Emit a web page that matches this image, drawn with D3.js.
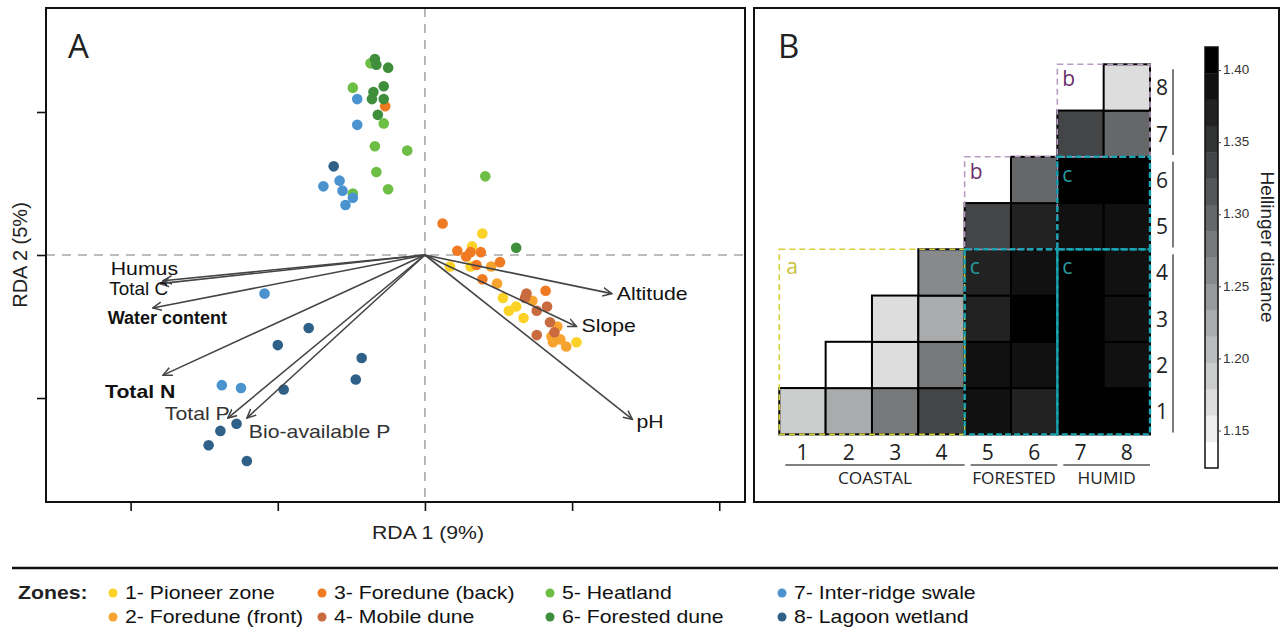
<!DOCTYPE html>
<html><head><meta charset="utf-8">
<script src="https://cdn.jsdelivr.net/npm/d3@7"></script>
<style>body{margin:0;background:#fff;} svg{display:block;}</style>
</head><body><svg id="c" width="1288" height="633"></svg>
<script>
// ---------- DATA (panel A: RDA site scores per zone) ----------
const zoneNames = ["1- Pioneer zone","2- Foredune (front)","3- Foredune (back)","4- Mobile dune",
                   "5- Heatland","6- Forested dune","7- Inter-ridge swale","8- Lagoon wetland"];
const zone1 = [[0.39,0.15],[0.32,0.06],[0.17,-0.08],[0.31,-0.08],[0.53,-0.30],[0.62,-0.36],[0.57,-0.39],[0.67,-0.44],[1.03,-0.61]];
const zone2 = [[0.45,-0.08],[0.49,-0.20],[0.73,-0.32],[0.90,-0.50],[0.86,-0.57],[0.92,-0.59],[0.96,-0.64],[0.87,-0.61]];
const zone3 = [[0.12,0.22],[0.31,0.02],[0.38,0.02],[0.28,-0.01],[0.22,0.03],[0.35,-0.07],[0.51,-0.05],[0.39,-0.17],[0.82,-0.25],[-0.27,1.04]];
const zone4 = [[0.69,-0.27],[0.68,-0.30],[0.83,-0.36],[0.76,-0.39],[0.85,-0.47],[0.88,-0.54],[0.76,-0.56]];
const zone5 = [[-0.37,1.34],[-0.49,1.17],[-0.28,0.92],[-0.34,0.76],[-0.12,0.73],[-0.33,0.58],[-0.49,0.43],[-0.25,0.46],[0.41,0.55]];
const zone6 = [[-0.34,1.37],[-0.33,1.33],[-0.25,1.31],[-0.28,1.18],[-0.35,1.14],[-0.36,1.09],[-0.28,1.09],[-0.32,0.98],[0.62,0.05]];
const zone7 = [[-0.46,1.09],[-0.46,0.91],[-0.58,0.52],[-0.69,0.48],[-0.56,0.45],[-0.49,0.40],[-0.54,0.35],[-1.09,-0.27],[-1.38,-0.91],[-1.25,-0.93]];
const zone8 = [[-0.62,0.62],[-0.79,-0.51],[-1.00,-0.63],[-0.43,-0.72],[-0.47,-0.87],[-0.96,-0.94],[-1.28,-1.18],[-1.39,-1.23],[-1.47,-1.33],[-1.21,-1.44]];
const zoneSites = [zone1,zone2,zone3,zone4,zone5,zone6,zone7,zone8];

// environmental vectors
const envNames = ["Altitude","Slope","pH","Humus","Total C","Water content","Total N","Total P","Bio-available P"];
const envRDA1  = [1.27, 1.03, 1.41, -1.78, -1.80, -1.85, -1.78, -1.34, -1.21];
const envRDA2  = [-0.27, -0.50, -1.15, -0.18, -0.20, -0.37, -0.84, -1.14, -1.14];
const envBold  = [false,false,false,false,false,true,true,false,false];

const xTicksA = [-2,-1,0,1,2];
const yTicksA = [-1,0,1];

// ---------- DATA (panel B: Hellinger distances, row r / column c) ----------
const zonesB = [1,2,3,4,5,6,7,8];
const hRow1 = [1.192,1.217,1.273,1.329,1.384,1.366,1.404,1.403];
const hRow2 = [null,1.130,1.174,1.273,1.384,1.388,1.404,1.384];
const hRow3 = [null,null,1.168,1.217,1.366,1.404,1.403,1.384];
const hRow4 = [null,null,null,1.253,1.366,1.384,1.404,1.384];
const hRow5 = [null,null,null,null,1.329,1.366,1.384,1.388];
const hRow6 = [null,null,null,null,null,1.305,1.404,1.414];
const hRow7 = [null,null,null,null,null,null,1.329,1.305];
const hRow8 = [null,null,null,null,null,null,null,1.168];
const hellingerRows = [hRow1,hRow2,hRow3,hRow4,hRow5,hRow6,hRow7,hRow8];
const colorbarTicks = [1.15,1.20,1.25,1.30,1.35,1.40];
const groupNames = ["COASTAL","FORESTED","HUMID"];
const groupCols = [[1,4],[5,6],[7,8]];
const groupRows = [[7,8],[5,6],[1,4]];

// ---------- STYLE ----------
const zoneColors = ["#FDD226","#F6A32F","#EF7A22","#C96A3F","#6DBE45","#3F8E3B","#4A93CF","#2F6088"];
const ARIAL = "'Liberation Sans', Arial, sans-serif";
const MYRIAD = "'Open Sans', 'Noto Sans', sans-serif";
const SX = 1.18;

const svg = d3.select("#c");

function T(sel, x, y, s, o = {}) {
  const sx = o.sx ?? SX;
  const rot = o.rot ? ` rotate(${o.rot})` : "";
  const t = sel.append("text")
    .attr("transform", `translate(${x},${y})${rot} scale(${sx},1)`)
    .attr("font-family", o.ff ?? ARIAL)
    .attr("font-size", o.fs ?? 18)
    .attr("fill", o.fill ?? "#222")
    .attr("text-anchor", o.anchor ?? "start")
    .attr("dominant-baseline", o.db ?? "central")
    .text(s);
  if (o.fw) t.attr("font-weight", o.fw);
  return t;
}

// ================= PANEL A =================
const A = {l:46, t:8, r:745, b:502};
const x = d3.scaleLinear().domain([-2.575, 2.175]).range([A.l, A.r]);
const y = d3.scaleLinear().domain([-1.727, 1.727]).range([A.b, A.t]);

const gA = svg.append("g");
gA.append("line").attr("x1", x(0)).attr("x2", x(0)).attr("y1", A.t).attr("y2", A.b)
  .attr("stroke", "#a8a8a8").attr("stroke-width", 1.6).attr("stroke-dasharray", "9,7");
gA.append("line").attr("x1", A.l).attr("x2", A.r).attr("y1", y(0)).attr("y2", y(0))
  .attr("stroke", "#a8a8a8").attr("stroke-width", 1.6).attr("stroke-dasharray", "9,7");

const axB = gA.append("g").attr("transform", `translate(0,${A.b})`)
  .call(d3.axisBottom(x).tickValues(xTicksA).tickFormat("").tickSizeInner(9).tickSizeOuter(0));
const axL = gA.append("g").attr("transform", `translate(${A.l},0)`)
  .call(d3.axisLeft(y).tickValues(yTicksA).tickFormat("").tickSizeInner(9).tickSizeOuter(0));
[axB, axL].forEach(a => { a.select(".domain").remove(); a.selectAll("line").attr("stroke", "#111").attr("stroke-width", 1.6); });

zoneSites.forEach((pts, i) => {
  gA.append("g").selectAll("circle").data(pts).join("circle")
    .attr("cx", d => x(d[0])).attr("cy", d => y(d[1])).attr("r", 5.3)
    .attr("fill", zoneColors[i]);
});

const defs = svg.append("defs");
defs.append("marker").attr("id", "ah").attr("viewBox", "0 -5 10 10").attr("refX", 9).attr("refY", 0)
  .attr("markerWidth", 10).attr("markerHeight", 10).attr("markerUnits", "userSpaceOnUse").attr("orient", "auto")
  .append("path").attr("d", "M0,-4.2L9,0L0,4.2").attr("fill", "none").attr("stroke", "#444").attr("stroke-width", 1.5);

envNames.forEach((n, i) => {
  gA.append("line").attr("x1", x(0)).attr("y1", y(0)).attr("x2", x(envRDA1[i])).attr("y2", y(envRDA2[i]))
    .attr("stroke", "#444").attr("stroke-width", 1.6).attr("marker-end", "url(#ah)");
});
// label placement (layout only): dx, dy, anchor, horizontal scale
const envLabelPos = {
  "Altitude": [5, 0, "start", SX], "Slope": [5, -1, "start", SX], "pH": [4, 2, "start", SX],
  "Humus": [15, -12, "end", SX], "Total C": [8, 5, "end", 1.05], "Water content": [-45, 10, "start", 1.0],
  "Total N": [-58, 16, "start", SX], "Total P": [2, -4, "end", SX], "Bio-available P": [2, 14, "start", SX]
};
envNames.forEach((n, i) => {
  const p = envLabelPos[n];
  T(gA, x(envRDA1[i]) + p[0], y(envRDA2[i]) + p[1], n,
    {anchor: p[2], sx: p[3], fw: envBold[i] ? "bold" : null, fill: envBold[i] ? "#111" : (i >= 7 ? "#333" : "#111")});
});

gA.append("rect").attr("x", A.l).attr("y", A.t).attr("width", A.r - A.l).attr("height", A.b - A.t)
  .attr("fill", "none").attr("stroke", "#111").attr("stroke-width", 2);
T(gA, 68, 45, "A", {ff: MYRIAD, fs: 33, sx: 1, fill: "#222"});
T(gA, 428, 533, "RDA 1 (9%)", {anchor: "middle"});
T(gA, 20, 255, "RDA 2 (5%)", {anchor: "middle", rot: -90, sx: 1, fs: 20});

// ================= PANEL B =================
const B = {l:754, t:8, r:1279, b:502};
const gB = svg.append("g");
gB.append("rect").attr("x", B.l).attr("y", B.t).attr("width", B.r - B.l).attr("height", B.b - B.t)
  .attr("fill", "none").attr("stroke", "#111").attr("stroke-width", 2);
T(gB, 778, 45, "B", {ff: MYRIAD, fs: 33, sx: 1, fill: "#222"});

const xB = d3.scaleBand().domain(zonesB).range([779.3, 1150]);
const yB = d3.scaleBand().domain(zonesB).range([434.3, 64.3]);
const bw = xB.bandwidth();

const cDomain = [1.124, 1.416];
const nBands = 16;
const grayInterp = d3.piecewise(d3.interpolateRgb, ["#ffffff", "#7e8183", "#000000"]);
const bandColors = d3.range(nBands).map(k => grayInterp(k / (nBands - 1)));
const color = d3.scaleQuantize().domain(cDomain).range(bandColors);

const cells = [];
hellingerRows.forEach((row, ri) => row.forEach((v, ci) => { if (v !== null) cells.push({r: ri + 1, c: ci + 1, v}); }));
gB.append("g").selectAll("rect").data(cells).join("rect")
  .attr("x", d => xB(d.c)).attr("y", d => yB(d.r)).attr("width", bw).attr("height", bw)
  .attr("fill", d => color(d.v)).attr("stroke", "#000").attr("stroke-width", 2);

function box(c0, c1, r0, r1, col, w, dash) {
  gB.append("rect").attr("x", xB(c0)).attr("y", yB(r1)).attr("width", xB(c1) + bw - xB(c0)).attr("height", yB(r0) + bw - yB(r1))
    .attr("fill", "none").attr("stroke", col).attr("stroke-width", w).attr("stroke-dasharray", dash);
}
box(1, 4, 1, 4, "#d5d03a", 1.6, "6,4");
box(5, 6, 5, 6, "#b99cc3", 1.6, "6,4");
box(7, 8, 7, 8, "#b99cc3", 1.6, "6,4");
box(5, 6, 1, 4, "#1aa3b2", 2.4, "6,3");
box(7, 8, 1, 4, "#1aa3b2", 2.4, "6,3");
box(7, 8, 5, 6, "#1aa3b2", 2.4, "6,3");
const letterStyle = {ff: MYRIAD, fs: 21, sx: 1, db: "auto"};
T(gB, xB(1) + 7, yB(4) + 25, "a", {...letterStyle, fill: "#c8c23c"});
T(gB, xB(5) + 5, yB(6) + 22, "b", {...letterStyle, fill: "#6b2f6b"});
T(gB, xB(7) + 5, yB(8) + 22, "b", {...letterStyle, fill: "#6b2f6b"});
T(gB, xB(5) + 5, yB(4) + 25, "c", {...letterStyle, fill: "#2a9a9e"});
T(gB, xB(7) + 5, yB(4) + 25, "c", {...letterStyle, fill: "#2a9a9e"});
T(gB, xB(7) + 5, yB(6) + 25, "c", {...letterStyle, fill: "#2a9a9e"});

zonesB.forEach(z => {
  T(gB, xB(z) + bw / 2, 452, String(z), {ff: MYRIAD, fs: 21, sx: 1, anchor: "middle", fill: "#222"});
  T(gB, 1162, yB(z) + bw / 2, String(z), {ff: MYRIAD, fs: 21, sx: 1, anchor: "middle", fill: "#222"});
});
groupNames.forEach((g, i) => {
  const [c0, c1] = groupCols[i];
  const xl = xB(c0) + 6, xr = xB(c1) + bw;
  gB.append("line").attr("x1", xl).attr("x2", xr).attr("y1", 465).attr("y2", 465).attr("stroke", "#555").attr("stroke-width", 1.5);
  T(gB, (xl + xr) / 2, 478, g, {ff: MYRIAD, fs: 16, sx: 1.08, anchor: "middle", fill: "#222"});
});
groupRows.forEach(([r0, r1]) => {
  gB.append("line").attr("x1", 1173).attr("x2", 1173).attr("y1", yB(r1) + 5).attr("y2", yB(r0) + bw - 2)
    .attr("stroke", "#333").attr("stroke-width", 1.3);
});

const cb = {x: 1205, w: 13, t: 47, b: 468};
const yC = d3.scaleLinear().domain(cDomain).range([cb.b, cb.t]);
const bandStep = (cDomain[1] - cDomain[0]) / nBands;
gB.append("g").selectAll("rect").data(bandColors).join("rect")
  .attr("x", cb.x).attr("width", cb.w)
  .attr("y", (d, k) => yC(cDomain[0] + (k + 1) * bandStep))
  .attr("height", (d, k) => yC(cDomain[0] + k * bandStep) - yC(cDomain[0] + (k + 1) * bandStep) + 0.3)
  .attr("fill", d => d);
gB.append("rect").attr("x", cb.x).attr("y", cb.t).attr("width", cb.w).attr("height", cb.b - cb.t)
  .attr("fill", "none").attr("stroke", "#111").attr("stroke-width", 1.5);
const axC = gB.append("g").attr("transform", `translate(${cb.x + cb.w},0)`)
  .call(d3.axisRight(yC).tickValues(colorbarTicks).tickFormat("").tickSizeInner(3).tickSizeOuter(0));
axC.select(".domain").remove();
axC.selectAll("line").attr("stroke", "#444");
colorbarTicks.forEach(v => T(gB, cb.x + cb.w + 5, yC(v), d3.format(".2f")(v), {fs: 12, sx: 1.12, fill: "#333"}));
T(gB, 1267, 247, "Hellinger distance", {anchor: "middle", rot: 90, sx: 1, fs: 19});

// ================= LEGEND =================
const gL = svg.append("g");
gL.append("line").attr("x1", 12).attr("x2", 1278).attr("y1", 568).attr("y2", 568).attr("stroke", "#111").attr("stroke-width", 2.5);
T(gL, 18, 593, "Zones:", {fw: "bold"});
const legX = [113, 322, 550, 782], legY = [593, 617];
zoneNames.forEach((n, i) => {
  const cx = legX[Math.floor(i / 2)], cy = legY[i % 2];
  gL.append("circle").attr("cx", cx).attr("cy", cy).attr("r", 4.5).attr("fill", zoneColors[i]);
  T(gL, cx + 12, cy, n, {fill: "#111"});
});
</script></body></html>
